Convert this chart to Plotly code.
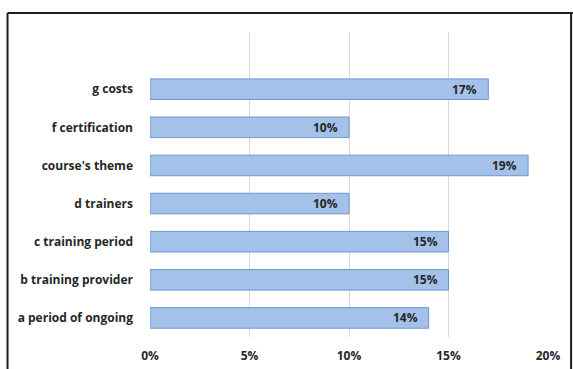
import plotly.graph_objects as go

# Survey factors, listed bottom to top
categories = [
    "a period of ongoing",
    "b training provider",
    "c training period",
    "d trainers",
    "course's theme",
    "f certification",
    "g costs",
]
shares = [14, 15, 15, 10, 19, 10, 17]

tick_vals = [0, 5, 10, 15, 20]
tick_text = ["0%", "5%", "10%", "15%", "20%"]

base_font = dict(family="Open Sans, DejaVu Sans, sans-serif", size=12, color="#262626", weight="bold")

fig = go.Figure(
    go.Bar(
        x=shares,
        y=categories,
        orientation="h",
        width=0.54,
        marker=dict(color="#a4c1e9", line=dict(color="#7097cf", width=1)),
        hoverinfo="skip",
    )
)

# Value labels near the end of each bar
for cat, val in zip(categories, shares):
    fig.add_annotation(
        x=val, y=cat, text=f"{val}%", showarrow=False,
        xanchor="right", xshift=-9, font=base_font,
    )

# Outer frame around the chart area
frame = dict(type="line", xref="paper", yref="paper", line=dict(color="#1e1e1e", width=2))
fig.add_shape(**frame, x0=-0.358, x1=-0.358, y0=1.062, y1=-0.2)
fig.add_shape(**frame, x0=-0.358, x1=1.07, y0=1.062, y1=1.062)
fig.add_shape(**frame, x0=1.058, x1=1.058, y0=1.062, y1=-0.2)

fig.update_layout(
    width=573,
    height=369,
    margin=dict(l=150, r=25, t=32, b=32),
    paper_bgcolor="white",
    plot_bgcolor="white",
    showlegend=False,
    xaxis=dict(
        range=[0, 20],
        tickvals=tick_vals,
        ticktext=tick_text,
        showgrid=True,
        gridcolor="#d9d9d9",
        gridwidth=1,
        zeroline=False,
        showline=False,
        ticks="",
        ticklabelstandoff=10,
        tickfont=base_font,
        automargin=False,
    ),
    yaxis=dict(
        type="category",
        categoryorder="array",
        categoryarray=categories,
        range=[-0.5, 7.5],
        showgrid=False,
        zeroline=False,
        showline=False,
        ticks="",
        ticklabelstandoff=16,
        tickfont=base_font,
        automargin=False,
    ),
)

fig.write_html("out.html")
